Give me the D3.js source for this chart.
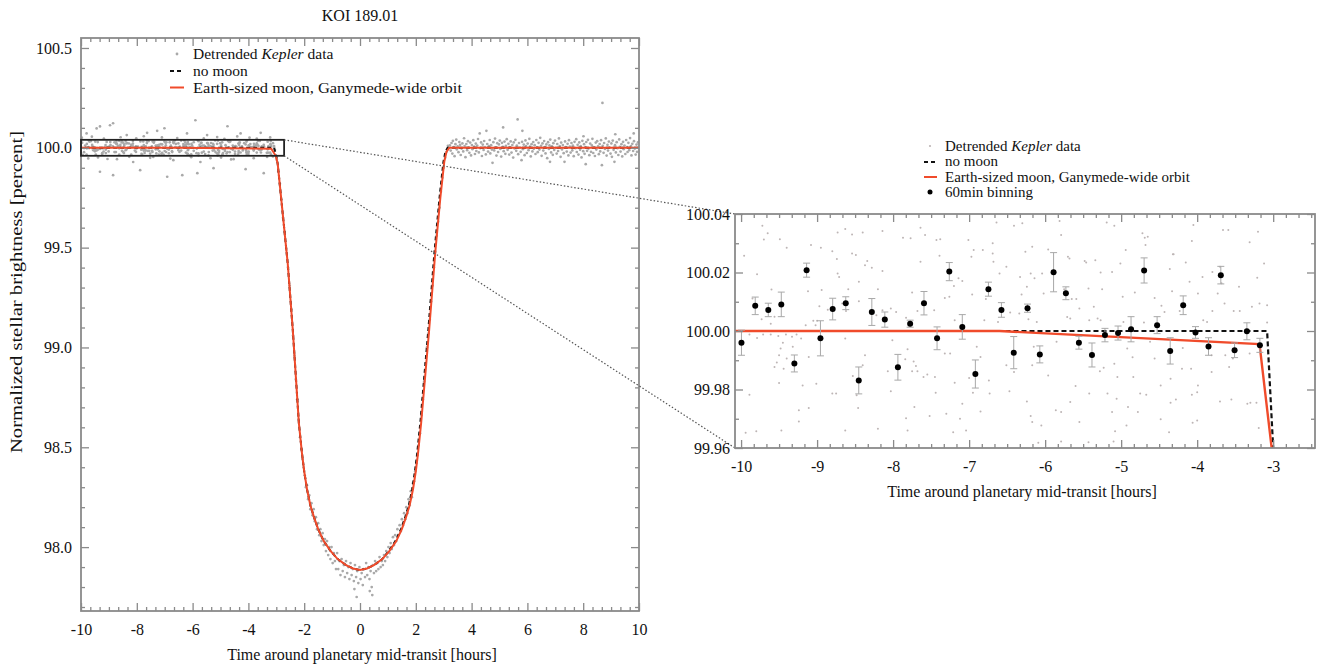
<!DOCTYPE html>
<html><head><meta charset="utf-8">
<script src="https://cdn.jsdelivr.net/npm/d3@7"></script>
<style>
body{margin:0;background:#fff}
svg{display:block}
text{font-family:"Liberation Serif","Times New Roman",serif;fill:#111}
</style>
</head><body>
<svg id="c" width="1317" height="666"></svg>
<script>
// ---------------- DATA ----------------
const chartTitle = "KOI 189.01";
const xTitle = "Time around planetary mid-transit [hours]";
const yTitle = "Normalized stellar brightness [percent]";

// tick labels
const leftXTicks = [-10,-8,-6,-4,-2,0,2,4,6,8,10];
const leftYTicks = [98.0,98.5,99.0,99.5,100.0,100.5];
const rightXTicks = [-10,-9,-8,-7,-6,-5,-4,-3];
const rightYTicks = [99.96,99.98,100.00,100.02,100.04];

// detrended Kepler data before ingress (t [h], flux [%])
const dataPreIngress = [
[-9.72,100.0360],[-9.65,100.0334],[-9.70,100.0313],[-9.49,100.0314],[-9.40,100.0285],[-9.96,100.0257],[-9.79,100.0194],[-9.60,100.0142],[-9.85,100.0111],[-9.73,100.0040],[-9.61,100.0025],[-9.56,100.0049],[-9.89,99.9988],[-9.79,99.9976],[-9.71,99.9988],[-9.61,99.9988],[-9.51,99.9983],[-9.41,99.9988],[-9.33,99.9980],[-9.27,99.9988],[-9.21,99.9974],[-9.45,99.9960],[-9.48,99.9940],[-9.50,99.9917],[-9.53,99.9892],[-9.40,99.9906],[-9.56,99.9877],[-9.44,99.9871],[-9.50,99.9822],[-9.32,99.9946],[-9.11,99.9911],[-9.19,99.9814],[-9.01,99.9820],[-9.89,99.9782],[-9.24,99.9729],[-9.11,99.9737],[-9.24,99.9691],[-9.47,99.9660],[-9.80,99.9657],[-9.94,99.9652],[-9.08,100.0294],[-8.95,100.0285],[-8.80,100.0273],[-8.74,100.0246],[-8.73,100.0197],[-8.71,100.0185],[-9.12,100.0136],[-8.94,100.0140],[-8.86,100.0073],[-8.97,100.0085],[-9.05,100.0035],[-9.00,100.0035],[-9.15,100.0020],[-9.02,100.0020],[-8.63,99.9974],[-8.80,99.9786],[-8.75,99.9786],[-8.63,99.9660],[-8.67,100.0094],[-8.62,100.0068],[-8.59,100.0143],[-8.45,100.0168],[-8.54,100.0265],[-8.49,100.0260],[-8.34,100.0239],[-8.37,100.0225],[-8.28,100.0216],[-8.54,100.0330],[-8.63,100.0349],[-8.73,100.0337],[-8.40,100.0337],[-8.14,100.0342],[-8.14,100.0205],[-8.20,100.0143],[-8.14,100.0071],[-8.37,99.9917],[-8.40,99.9883],[-8.53,99.9846],[-8.48,99.9780],[-8.46,99.9737],[-8.20,99.9666],[-8.22,100.0054],[-8.45,100.0102],
[-7.64,100.0353],[-7.58,100.0328],[-7.87,100.0319],[-7.77,100.0317],[-7.43,100.0311],[-7.38,100.0314],[-7.39,100.0257],[-7.64,100.0237],[-7.01,100.0311],[-6.94,100.0277],[-6.82,100.0277],[-6.97,100.0254],[-6.69,100.0300],[-6.69,100.0265],[-6.64,100.0371],[-6.41,100.0360],[-6.30,100.0368],[-6.68,100.0237],[-6.51,100.0220],[-6.60,100.0197],[-6.33,100.0185],[-6.24,100.0151],[-6.19,100.0197],[-6.26,100.0271],[-7.14,100.0180],[-7.09,100.0171],[-7.20,100.0154],[-7.75,100.0132],[-7.46,100.0071],[-7.68,100.0068],[-7.96,100.0065],[-8.03,100.0077],[-7.83,100.0045],[-7.26,100.0117],[-7.32,100.0113],[-6.96,100.0125],[-6.78,100.0109],[-6.62,100.0031],[-6.46,100.0063],[-6.34,100.0060],[-6.31,100.0125],[-6.22,100.0040],[-6.80,100.0037],[-7.19,100.0037],[-8.01,99.9968],[-7.81,99.9938],[-7.84,99.9903],[-7.73,99.9896],[-7.75,99.9862],[-7.68,99.9862],[-7.60,99.9843],[-7.55,99.9851],[-7.45,99.9843],[-7.70,99.9880],[-7.32,99.9923],[-7.25,99.9923],[-6.90,99.9946],[-6.85,99.9911],[-7.00,99.9839],[-6.74,99.9831],[-7.19,99.9823],[-6.95,99.9789],[-6.73,99.9786],[-6.47,99.9794],[-6.51,99.9883],[-6.41,99.9860],[-7.44,99.9789],[-8.03,99.9794],[-8.07,99.9862],[-7.09,99.9751],[-6.85,99.9725],[-7.30,99.9717],[-7.72,99.9740],[-7.52,99.9709],[-7.83,99.9702],[-7.12,99.9700],[-7.21,99.9654],[-7.81,99.9660],[-7.04,99.9660],[-6.24,99.9759],[-6.19,99.9709],
[-5.81,100.0376],[-5.79,100.0328],[-6.17,100.0288],[-5.96,100.0279],[-5.70,100.0254],[-5.68,100.0248],[-5.48,100.0239],[-5.46,100.0234],[-5.34,100.0242],[-5.19,100.0371],[-5.09,100.0360],[-4.94,100.0277],[-5.01,100.0231],[-5.12,100.0202],[-5.27,100.0200],[-4.72,100.0334],[-4.69,100.0319],[-4.65,100.0322],[-4.68,100.0294],[-4.36,100.0212],[-4.32,100.0262],[-6.14,100.0180],[-6.04,100.0197],[-6.02,100.0128],[-5.75,100.0143],[-5.65,100.0109],[-5.59,100.0109],[-5.43,100.0145],[-5.55,100.0077],[-5.36,100.0083],[-5.25,100.0143],[-4.98,100.0117],[-4.82,100.0132],[-4.56,100.0113],[-4.33,100.0136],[-4.47,100.0086],[-4.43,100.0065],[-4.70,100.0029],[-5.71,100.0048],[-5.67,100.0043],[-5.31,100.0043],[-5.27,100.0037],[-5.42,100.0037],[-4.97,100.0031],[-6.11,100.0031],[-5.85,99.9963],[-6.15,99.9946],[-6.17,99.9883],[-5.96,99.9848],[-5.23,99.9874],[-5.28,99.9862],[-5.09,99.9888],[-4.92,99.9940],[-4.85,99.9910],[-4.56,99.9906],[-4.62,99.9963],[-5.05,99.9843],[-4.84,99.9843],[-4.48,99.9814],[-4.35,99.9837],[-5.60,99.9812],[-5.42,99.9786],[-5.18,99.9786],[-5.06,99.9768],[-5.67,99.9757],[-4.75,99.9786],[-4.67,99.9782],[-4.91,99.9740],[-4.78,99.9723],[-4.35,99.9755],[-5.86,99.9729],[-5.79,99.9723],[-5.55,99.9689],[-6.17,99.9689],[-6.05,99.9677],[-5.12,99.9723],[-4.93,99.9677],[-4.48,99.9698],[-4.37,99.9654],[-6.09,99.9618],[-5.79,99.9622],[-5.43,99.9620],[-5.10,99.9622],[-5.08,99.9657],
[-4.05,100.0362],[-3.66,100.0345],[-3.59,100.0345],[-3.20,100.0339],[-4.07,100.0308],[-3.31,100.0303],[-4.15,100.0234],[-4.31,100.0262],[-4.10,100.0168],[-3.93,100.0185],[-3.80,100.0202],[-3.70,100.0220],[-3.68,100.0163],[-3.45,100.0151],[-3.21,100.0182],[-3.12,100.0231],[-3.99,100.0128],[-3.73,100.0128],[-4.23,100.0068],[-3.80,100.0068],[-3.64,100.0094],[-3.52,100.0068],[-3.44,100.0068],[-3.28,100.0083],[-3.18,100.0094],[-3.08,100.0088],[-3.92,100.0037],[-3.87,100.0031],[-3.08,100.0029],[-4.19,99.9942],[-3.81,99.9917],[-3.63,99.9917],[-3.58,99.9877],[-3.53,99.9906],[-3.31,99.9923],[-4.20,99.9871],[-4.08,99.9871],[-3.81,99.9860],[-3.99,99.9814],[-4.00,99.9791],[-4.07,99.9782],[-3.70,99.9759],[-3.55,99.9766],[-3.34,99.9751],[-3.30,99.9755],[-3.22,99.9755],[-4.28,99.9766],[-4.06,99.9686],[-4.00,99.9694],[-3.19,99.9668]
];

// points before ingress lying outside the zoom window
const dataPreOutliers = [
[-9.97,100.051],[-9.80,100.072],[-9.74,99.947],[-9.61,100.056],[-9.44,100.097],[-9.39,99.952],[-9.32,100.107],[-9.32,99.880],[-9.18,100.046],[-9.05,99.944],[-8.96,100.113],[-8.85,100.123],[-8.85,99.863],[-8.71,99.943],[-8.58,100.053],[-8.36,100.064],[-8.27,99.955],[-8.13,99.929],[-8.02,100.048],[-7.88,99.888],[-7.75,100.058],[-7.63,100.075],[-7.52,99.950],[-7.41,99.954],[-7.27,100.085],[-7.10,100.052],[-7.01,100.098],[-6.91,99.855],[-6.80,99.946],[-6.69,99.938],[-6.55,100.049],[-6.37,99.863],[-6.20,100.072],[-6.05,99.953],[-5.90,100.138],[-5.83,99.873],[-5.72,99.929],[-5.60,100.047],[-5.48,100.064],[-5.36,99.948],[-5.25,99.898],[-5.12,100.054],[-4.98,99.951],[-4.86,100.045],[-4.75,100.108],[-4.62,99.942],[-4.53,99.943],[-4.40,100.057],[-4.28,100.072],[-4.10,99.893],[-3.96,100.051],[-3.81,99.948],[-3.70,100.046],[-3.56,100.075],[-3.45,99.873],[-3.33,99.954],[-3.22,100.052],[-3.12,99.957]
];

// points during the transit
const dataTransit = [
[-3.05,99.99],[-2.98,99.94],[-2.93,99.88],[-2.87,99.82],[-2.82,99.74],[-2.76,99.65],[-2.70,99.58],[-2.64,99.49],[-2.58,99.40],[-2.52,99.31],[-2.46,99.19],[-2.40,99.06],[-2.35,98.96],[-2.30,98.84],[-2.25,98.74],[-2.20,98.64],[-2.15,98.55],[-2.10,98.49],[-2.06,98.44],[-2.02,98.40],
[-1.98,98.36],[-1.94,98.30],[-1.90,98.31],[-1.86,98.24],[-1.82,98.26],[-1.78,98.19],[-1.74,98.22],[-1.70,98.16],[-1.66,98.19],[-1.62,98.13],[-1.58,98.15],[-1.54,98.09],[-1.50,98.12],[-1.46,98.06],[-1.42,98.09],[-1.38,98.03],[-1.34,98.07],[-1.30,98.01],[-1.26,98.04],[-1.22,97.98],[-1.18,98.03],[-1.14,97.96],[-1.10,98.00],[-1.06,97.94],[-1.02,98.00],[-0.98,97.92],[-0.94,97.97],[-0.90,97.93],[-0.86,97.89],[-0.82,97.97],[-0.78,97.89],[-0.74,97.93],[-0.70,97.86],[-0.66,97.94],[-0.62,97.88],[-0.58,97.91],[-0.54,97.85],[-0.50,97.93],[-0.46,97.87],[-0.42,97.90],[-0.38,97.84],[-0.34,97.92],[-0.30,97.86],[-0.26,97.89],[-0.22,97.83],[-0.20,97.79],[-0.18,97.91],[-0.14,97.85],[-0.12,97.75],[-0.10,97.88],[-0.06,97.82],[-0.02,97.90],[0.02,97.84],[0.06,97.87],[0.10,97.81],[0.14,97.89],[0.18,97.85],[0.22,97.92],[0.26,97.86],[0.30,97.90],[0.34,97.84],[0.35,97.78],[0.38,97.88],[0.42,97.80],[0.44,97.76],[0.46,97.91],[0.50,97.87],[0.54,97.93],[0.58,97.88],[0.62,97.92],[0.66,97.89],[0.70,97.95],[0.74,97.90],[0.78,97.93],[0.82,97.91],[0.86,97.96],[0.90,97.93],[0.94,97.98],[0.98,97.95],
[1.02,98.00],[1.06,97.97],[1.10,98.02],[1.14,97.99],[1.18,98.05],[1.22,98.01],[1.26,98.06],[1.30,98.03],[1.34,98.09],[1.38,98.06],[1.42,98.11],[1.46,98.08],[1.50,98.14],[1.54,98.11],[1.58,98.17],[1.62,98.14],[1.66,98.20],[1.70,98.17],[1.74,98.24],[1.78,98.21],[1.82,98.28],[1.86,98.25],[1.90,98.32],[1.94,98.33],[1.98,98.38],[2.02,98.42],[2.06,98.46],[2.10,98.51],[2.15,98.57],[2.20,98.66],[2.25,98.74],[2.30,98.83],[2.35,98.92],[2.40,99.00],[2.45,99.07],[2.50,99.14],[2.55,99.23],[2.60,99.31],[2.65,99.40],[2.70,99.48],[2.75,99.56],[2.80,99.63],[2.85,99.70],[2.90,99.78],[2.95,99.85],[3.00,99.90],[3.05,99.95],[3.10,99.98],[3.15,100.01]
];

// points after egress
const dataPostEgress = [
[3.22,100.012],[3.25,99.986],[3.28,100.024],[3.31,99.971],[3.33,100.035],[3.36,100.003],[3.39,99.958],[3.42,100.018],[3.45,100.041],[3.47,99.992],
[3.50,100.007],[3.53,99.978],[3.56,100.029],[3.59,100.015],[3.61,99.964],[3.64,99.996],[3.67,100.022],[3.70,99.982],[3.73,100.048],[3.75,100.009],
[3.78,99.953],[3.81,100.019],[3.84,99.988],[3.87,100.033],[3.89,100.001],[3.92,99.975],[3.95,100.026],[3.98,99.962],[4.01,100.014],[4.03,99.993],
[4.06,100.038],[4.09,100.006],[4.12,99.969],[4.15,100.021],[4.17,99.984],[4.20,100.011],[4.23,100.044],[4.26,99.977],[4.29,100.072],[4.31,99.998],
[4.34,100.027],[4.37,99.959],[4.40,100.016],[4.43,99.989],[4.45,100.034],[4.48,100.004],[4.51,99.967],[4.53,100.085],[4.56,100.019],[4.59,99.981],
[4.62,100.008],[4.65,100.039],[4.67,99.972],[4.70,100.013],[4.73,99.991],[4.75,99.925],[4.78,100.028],[4.81,99.987],[4.84,100.046],[4.87,100.002],
[4.89,99.961],[4.92,100.023],[4.95,99.979],[4.98,100.017],[5.01,100.036],[5.03,99.994],[5.06,99.956],[5.09,100.025],[5.12,100.005],[5.13,100.102],
[5.15,99.983],[5.18,100.031],[5.21,99.970],[5.23,100.010],[5.26,100.043],[5.29,99.990],[5.32,100.020],[5.35,99.966],[5.37,100.003],[5.40,100.032],
[5.43,99.976],[5.46,100.014],[5.49,99.951],[5.51,100.027],[5.54,99.997],[5.57,100.040],[5.60,99.985],[5.62,100.011],[5.65,100.142],[5.67,99.968],
[5.70,100.024],[5.73,100.001],[5.76,99.980],[5.79,99.938],[5.81,100.030],[5.82,100.085],[5.84,99.993],[5.87,100.016],[5.90,99.963],[5.93,100.037],
[5.95,100.008],[5.98,99.974],[6.01,100.021],[6.04,99.988],[6.07,100.045],[6.09,100.006],[6.12,99.957],[6.15,100.018],[6.18,99.982],[6.21,100.029],
[6.23,99.995],[6.26,100.013],[6.29,99.969],[6.32,100.039],[6.35,100.002],[6.37,99.978],[6.40,100.025],[6.43,99.991],[6.46,100.050],[6.49,100.010],
[6.51,99.960],[6.54,100.022],[6.57,99.986],[6.60,100.034],[6.63,100.004],[6.65,99.972],[6.68,100.017],[6.71,99.948],[6.74,100.028],[6.77,99.994],
[6.79,100.012],[6.81,99.930],[6.82,100.041],[6.85,99.977],[6.88,100.007],[6.91,99.965],[6.93,100.023],[6.96,99.989],[6.99,100.036],[7.02,100.000],
[7.05,99.971],[7.07,100.019],[7.10,99.984],[7.13,100.047],[7.16,100.009],[7.19,99.955],[7.21,100.026],[7.24,99.992],[7.27,100.014],[7.30,99.973],
[7.33,99.930],[7.35,100.032],[7.38,100.003],[7.41,99.981],[7.44,100.020],[7.47,99.962],[7.49,100.038],[7.52,100.006],[7.55,99.976],[7.58,100.024],
[7.61,99.987],[7.63,100.011],[7.66,99.958],[7.69,100.030],[7.72,99.998],[7.75,100.043],[7.77,99.979],[7.80,100.015],[7.83,99.966],[7.86,100.027],
[7.89,99.990],[7.91,100.008],[7.94,99.952],[7.97,100.035],[8.00,99.983],[8.01,100.058],[8.03,100.018],[8.05,99.970],[8.08,100.004],[8.09,99.918],
[8.11,100.029],[8.14,99.985],[8.17,100.040],[8.19,99.996],[8.22,99.963],[8.25,100.021],[8.28,99.980],[8.31,100.012],[8.33,100.045],[8.36,99.974],
[8.39,100.002],[8.42,99.959],[8.45,100.026],[8.47,99.991],[8.50,100.033],[8.53,100.007],[8.56,99.968],[8.59,100.019],[8.61,99.982],[8.64,100.038],
[8.67,99.913],[8.69,100.225],[8.70,100.010],[8.73,99.975],[8.75,100.024],[8.78,99.994],[8.81,100.047],[8.84,99.961],[8.87,100.015],[8.89,99.986],
[8.92,100.031],[8.95,100.001],[8.98,99.971],[9.01,100.022],[9.03,99.955],[9.06,100.036],[9.09,99.990],[9.12,99.930],[9.14,100.013],[9.15,100.068],
[9.17,99.977],[9.20,100.028],[9.23,99.998],[9.26,99.964],[9.29,100.042],[9.31,100.005],[9.34,99.981],[9.37,100.018],[9.40,99.957],[9.43,100.030],
[9.45,99.993],[9.48,100.011],[9.51,99.969],[9.54,100.039],[9.57,100.003],[9.59,99.979],[9.62,100.025],[9.65,99.988],[9.68,100.049],[9.71,100.008],
[9.73,99.962],[9.76,100.020],[9.79,99.984],[9.81,100.072],[9.82,100.033],[9.85,99.996],[9.88,99.966],[9.91,100.016],[9.93,99.980],[9.96,100.027],
[9.98,100.001]
];

// 60 min binning (time, flux, error)
const binT = [-9.995,-9.814,-9.642,-9.471,-9.299,-9.138,-8.956,-8.795,-8.623,-8.452,-8.280,-8.109,-7.937,-7.776,-7.594,-7.422,-7.261,-7.090,-6.918,-6.746,-6.575,-6.413,-6.232,-6.070,-5.889,-5.727,-5.556,-5.384,-5.213,-5.041,-4.870,-4.698,-4.527,-4.355,-4.184,-4.022,-3.851,-3.689,-3.508,-3.346,-3.175];
const binF = [99.9960,100.0086,100.0072,100.0091,99.9889,100.0208,99.9975,100.0075,100.0095,99.9831,100.0065,100.0039,99.9876,100.0025,100.0095,99.9975,100.0203,100.0014,99.9853,100.0143,100.0072,99.9926,100.0078,99.9920,100.0201,100.0129,99.9960,99.9918,99.9986,99.9993,100.0006,100.0207,100.0020,99.9932,100.0088,99.9995,99.9947,100.0191,99.9934,99.9999,99.9951];
const binErr = [0.0043,0.0030,0.0023,0.0042,0.0029,0.0024,0.0060,0.0037,0.0022,0.0046,0.0046,0.0026,0.0044,0.0012,0.0040,0.0039,0.0031,0.0042,0.0048,0.0024,0.0025,0.0055,0.0014,0.0029,0.0067,0.0022,0.0022,0.0041,0.0023,0.0024,0.0043,0.0043,0.0029,0.0045,0.0032,0.0020,0.0030,0.0030,0.0025,0.0029,0.0024];

// models
const moonModel = [[-10.1,100],[-6.6,100],[-3.18,99.9955],[-3.02,99.96],[-2.95,99.92],[-2.77,99.67],[-2.59,99.42],[-2.41,99.09],[-2.19,98.62],[-2.08,98.47],[-2.0,98.38],[-1.9,98.29],[-1.78,98.21],[-1.65,98.15],[-1.5,98.09],[-1.3,98.03],[-1.05,97.98],[-0.8,97.94],[-0.5,97.91],[-0.25,97.893],[0,97.885],[0.25,97.893],[0.5,97.91],[0.8,97.94],[1.05,97.98],[1.3,98.03],[1.5,98.09],[1.65,98.15],[1.78,98.21],[1.9,98.29],[2.0,98.38],[2.08,98.47],[2.19,98.62],[2.48,99.09],[2.70,99.48],[2.88,99.75],[3.02,99.93],[3.1,99.98],[3.2,100],[10,100]];
const noMoonModel = [[-10.1,100],[-3.08,100],[-3.0,99.96],[-2.95,99.92],[-2.77,99.67],[-2.59,99.42],[-2.41,99.09],[-2.19,98.62],[-2.08,98.47],[-2.0,98.38],[-1.9,98.29],[-1.78,98.21],[-1.65,98.15],[-1.5,98.09],[-1.3,98.03],[-1.05,97.98],[-0.8,97.94],[-0.5,97.91],[-0.25,97.893],[0,97.885],[0.25,97.893],[0.5,97.91],[0.8,97.94],[1.03,97.98],[1.27,98.03],[1.47,98.09],[1.62,98.15],[1.75,98.21],[1.87,98.29],[1.97,98.38],[2.05,98.47],[2.16,98.62],[2.45,99.09],[2.67,99.48],[2.85,99.75],[2.99,99.93],[3.06,99.98],[3.14,100],[10,100]];

// zoom window shown on the left panel
const zoomWindowT = [-10, -2.72];
const zoomWindowF = [99.96, 100.04];

// ---------------- DRAWING ----------------
const allData = dataPreIngress.concat(dataPreOutliers, dataTransit, dataPostEgress);
const svg = d3.select("#c");
const RED = "#f04b2b", FRAME = "#8a8a8a";

const L = {x0:81, x1:639, y0:38, y1:611};
const R = {x0:735, x1:1315, y0:214, y1:448};

const xL = d3.scaleLinear().domain([-10,10]).range([L.x0,L.x1]);
const yL = d3.scaleLinear().domain([97.68,100.55]).range([L.y1,L.y0]);
const xR = d3.scaleLinear().domain([-10.08,-2.45]).range([R.x0,R.x1]);
const yR = d3.scaleLinear().domain([99.96,100.04]).range([R.y1,R.y0]);

const defs = svg.append("defs");
defs.append("clipPath").attr("id","clipL").append("rect").attr("x",L.x0).attr("y",L.y0).attr("width",L.x1-L.x0).attr("height",L.y1-L.y0);
defs.append("clipPath").attr("id","clipR").append("rect").attr("x",R.x0).attr("y",R.y0).attr("width",R.x1-R.x0).attr("height",R.y1-R.y0);

function axes(box, x, y, o) {
  const g = svg.append("g");
  const style = sel => {
    sel.select(".domain").remove();
    sel.attr("font-family",'"Liberation Serif","Times New Roman",serif').attr("font-size",16);
    sel.selectAll("line").attr("stroke",FRAME).attr("stroke-width",1.3);
    sel.selectAll("text").attr("fill","#111");
  };
  const minX = o.xMinor.filter(v => !o.xMajor.some(m => Math.abs(m-v)<1e-6));
  const minY = o.yMinor.filter(v => !o.yMajor.some(m => Math.abs(m-v)<1e-6));
  g.append("g").attr("transform",`translate(0,${box.y1})`).call(d3.axisBottom(x).tickValues(o.xMajor).tickSize(-8).tickPadding(o.padX).tickFormat(o.xFmt)).call(style);
  g.append("g").attr("transform",`translate(0,${box.y1})`).call(d3.axisBottom(x).tickValues(minX).tickSize(-4).tickFormat("")).call(style);
  g.append("g").attr("transform",`translate(0,${box.y0})`).call(d3.axisTop(x).tickValues(o.xMajor).tickSize(-8).tickFormat("")).call(style);
  g.append("g").attr("transform",`translate(0,${box.y0})`).call(d3.axisTop(x).tickValues(minX).tickSize(-4).tickFormat("")).call(style);
  g.append("g").attr("transform",`translate(${box.x0},0)`).call(d3.axisLeft(y).tickValues(o.yMajor).tickSize(-8).tickPadding(o.padY).tickFormat(o.yFmt)).call(style);
  g.append("g").attr("transform",`translate(${box.x0},0)`).call(d3.axisLeft(y).tickValues(minY).tickSize(-4).tickFormat("")).call(style);
  g.append("g").attr("transform",`translate(${box.x1},0)`).call(d3.axisRight(y).tickValues(o.yMajor).tickSize(-8).tickFormat("")).call(style);
  g.append("g").attr("transform",`translate(${box.x1},0)`).call(d3.axisRight(y).tickValues(minY).tickSize(-4).tickFormat("")).call(style);
  g.append("rect").attr("x",box.x0).attr("y",box.y0).attr("width",box.x1-box.x0).attr("height",box.y1-box.y0)
    .attr("fill","none").attr("stroke",FRAME).attr("stroke-width",1.8);
}

// ---- left panel ----
const gL = svg.append("g").attr("clip-path","url(#clipL)");
gL.selectAll("circle").data(allData).join("circle")
  .attr("cx",d=>xL(d[0])).attr("cy",d=>yL(d[1])).attr("r",1.35).attr("fill","#a9a9a9");
const lineL = d3.line().x(d=>xL(d[0])).y(d=>yL(d[1]));
gL.append("path").attr("d",lineL(noMoonModel)).attr("fill","none").attr("stroke","#111").attr("stroke-width",2).attr("stroke-dasharray","4,3");
gL.append("path").attr("d",lineL(moonModel)).attr("fill","none").attr("stroke",RED).attr("stroke-width",2);

axes(L, xL, yL, {
  xMajor: leftXTicks, xMinor: d3.range(0,61).map(i=>-10+i/3),
  yMajor: leftYTicks, yMinor: d3.range(0,29).map(i=>97.7+i*0.1),
  xFmt: d=>String(d), yFmt: d3.format(".1f"), padX: 13, padY: 9
});

// zoom rectangle
svg.append("rect").attr("x",xL(zoomWindowT[0])).attr("y",yL(zoomWindowF[1]))
  .attr("width",xL(zoomWindowT[1])-xL(zoomWindowT[0])).attr("height",yL(zoomWindowF[0])-yL(zoomWindowF[1]))
  .attr("fill","none").attr("stroke","#222").attr("stroke-width",1.8);

// connectors
[zoomWindowF[1], zoomWindowF[0]].forEach(f => {
  svg.append("line").attr("x1",xL(zoomWindowT[1])).attr("y1",yL(f)).attr("x2",R.x0).attr("y2",yR(f))
    .attr("stroke","#555").attr("stroke-width",1.2).attr("stroke-dasharray","1.5,2");
});

// left texts
svg.append("text").attr("x",360).attr("y",21).attr("text-anchor","middle").attr("font-size",16).text(chartTitle);
svg.append("text").attr("x",362).attr("y",660).attr("text-anchor","middle").attr("font-size",16).text(xTitle);
svg.append("text").attr("transform","translate(22,292) rotate(-90)").attr("text-anchor","middle").attr("font-size",16)
  .attr("textLength",322).attr("lengthAdjust","spacingAndGlyphs").text(yTitle);

// left legend
const legL = svg.append("g");
legL.append("circle").attr("cx",177).attr("cy",54).attr("r",1.4).attr("fill","#a9a9a9");
legL.append("line").attr("x1",170).attr("x2",184).attr("y1",71).attr("y2",71).attr("stroke","#111").attr("stroke-width",2).attr("stroke-dasharray","4,3");
legL.append("line").attr("x1",170).attr("x2",184).attr("y1",87.5).attr("y2",87.5).attr("stroke",RED).attr("stroke-width",2);
const t1 = legL.append("text").attr("x",193).attr("y",59).attr("font-size",15.5);
t1.append("tspan").text("Detrended ");
t1.append("tspan").attr("font-style","italic").text("Kepler");
t1.append("tspan").text(" data");
legL.append("text").attr("x",193).attr("y",76).attr("font-size",15.5).text("no moon");
legL.append("text").attr("x",193).attr("y",93).attr("font-size",15.5)
  .attr("textLength",269).attr("lengthAdjust","spacingAndGlyphs").text("Earth-sized moon, Ganymede-wide orbit");

// ---- right panel ----
const gR = svg.append("g").attr("clip-path","url(#clipR)");
gR.selectAll("circle").data(dataPreIngress).join("circle")
  .attr("cx",d=>xR(d[0])).attr("cy",d=>yR(d[1])).attr("r",1.0).attr("fill","#bdb5b5");
const lineR = d3.line().x(d=>xR(d[0])).y(d=>yR(d[1]));
gR.append("path").attr("d",lineR(noMoonModel)).attr("fill","none").attr("stroke","#111").attr("stroke-width",2.2).attr("stroke-dasharray","5,3");
gR.append("path").attr("d",lineR(moonModel)).attr("fill","none").attr("stroke",RED).attr("stroke-width",2.4);
const bins = binT.map((t,i)=>({t, f:binF[i], e:binErr[i]}));
const eb = gR.append("g").attr("stroke","#a8a8a8").attr("stroke-width",1);
bins.forEach(b => {
  eb.append("line").attr("x1",xR(b.t)).attr("x2",xR(b.t)).attr("y1",yR(b.f-b.e)).attr("y2",yR(b.f+b.e));
  eb.append("line").attr("x1",xR(b.t)-3.5).attr("x2",xR(b.t)+3.5).attr("y1",yR(b.f-b.e)).attr("y2",yR(b.f-b.e));
  eb.append("line").attr("x1",xR(b.t)-3.5).attr("x2",xR(b.t)+3.5).attr("y1",yR(b.f+b.e)).attr("y2",yR(b.f+b.e));
});
gR.append("g").selectAll("circle").data(bins).join("circle")
  .attr("cx",d=>xR(d.t)).attr("cy",d=>yR(d.f)).attr("r",3).attr("fill","#000");

axes(R, xR, yR, {
  xMajor: rightXTicks, xMinor: d3.range(0,46).map(i=>-10+i/6),
  yMajor: rightYTicks, yMinor: d3.range(0,9).map(i=>99.96+i*0.01),
  xFmt: d=>String(d), yFmt: d3.format(".2f"), padX: 13, padY: 5
});
svg.append("text").attr("x",1022).attr("y",497).attr("text-anchor","middle").attr("font-size",16).text(xTitle);

// right legend
const legR = svg.append("g");
legR.append("circle").attr("cx",930).attr("cy",146).attr("r",1.1).attr("fill","#bdb5b5");
legR.append("line").attr("x1",924).attr("x2",937).attr("y1",162).attr("y2",162).attr("stroke","#111").attr("stroke-width",2).attr("stroke-dasharray","4,3");
legR.append("line").attr("x1",924).attr("x2",937).attr("y1",177).attr("y2",177).attr("stroke",RED).attr("stroke-width",2);
legR.append("circle").attr("cx",930).attr("cy",192).attr("r",2.5).attr("fill","#000");
const t2 = legR.append("text").attr("x",945).attr("y",151).attr("font-size",15);
t2.append("tspan").text("Detrended ");
t2.append("tspan").attr("font-style","italic").text("Kepler");
t2.append("tspan").text(" data");
legR.append("text").attr("x",945).attr("y",166).attr("font-size",15).text("no moon");
legR.append("text").attr("x",945).attr("y",182).attr("font-size",15).text("Earth-sized moon, Ganymede-wide orbit");
legR.append("text").attr("x",945).attr("y",197).attr("font-size",15).text("60min binning");
</script>
</body></html>
